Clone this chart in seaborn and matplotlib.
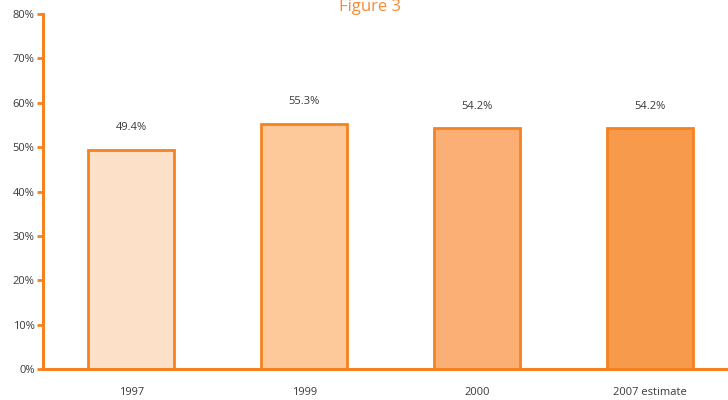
import matplotlib
matplotlib.use("Agg")
import matplotlib.pyplot as plt
import seaborn as sns
import pandas as pd

# data
years = ["1997", "1999", "2000", "2007 estimate"]
values = [49.4, 55.3, 54.2, 54.2]
fill_colors = ["#FCE1C8", "#FDC89A", "#FBAF74", "#F79A4C"]
yticks = [0, 10, 20, 30, 40, 50, 60, 70, 80]

orange = "#F58220"
text_grey = "#3a3a3a"

sns.set_theme(style="white")
plt.rcParams["font.family"] = ["Open Sans", "DejaVu Sans"]

df = pd.DataFrame({"year": years, "value": values})

fig = plt.figure(figsize=(7.28, 4.0), dpi=100)
ax = fig.add_axes([0.059, 0.0775, 0.941, 0.8875])

sns.barplot(data=df, x="year", y="value", hue="year", palette=fill_colors,
            saturation=1, edgecolor=orange, linewidth=2, width=0.5,
            legend=False, ax=ax)

# value labels above bars
for i, v in enumerate(values):
    ax.text(i, v + 5, f"{v:.1f}%", ha="center", va="center",
            fontsize=8, color=text_grey)

ax.set_ylim(0, 80)
ax.set_xlim(-0.51, 3.45)
ax.set_yticks(yticks)
ax.set_yticklabels([f"{t}%" for t in yticks], fontsize=8, color=text_grey)
ax.tick_params(axis="x", labelsize=8, labelcolor=text_grey, length=0, pad=13)
ax.tick_params(axis="y", length=4, width=2, color=orange, pad=2, left=True)
ax.set_xlabel("")
ax.set_ylabel("")

for s in ["top", "right"]:
    ax.spines[s].set_visible(False)
for s in ["left", "bottom"]:
    ax.spines[s].set_color(orange)
    ax.spines[s].set_linewidth(2.2)

fig.text(0.508, 0.972, "Figure 3", ha="center", va="baseline",
         fontsize=12, color="#F58A3A")

fig.savefig("out.png", dpi=100)
